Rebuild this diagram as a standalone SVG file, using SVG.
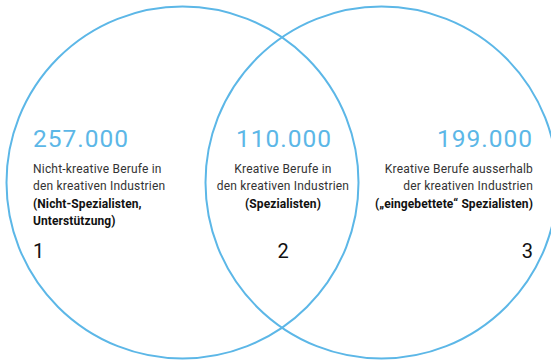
<svg xmlns="http://www.w3.org/2000/svg" width="551" height="361" viewBox="0 0 551 361">
<style>
.c{fill:none;stroke:#5cb7e7;stroke-width:2}
.n{font-family:Roboto,"Liberation Sans",sans-serif;font-size:24.5px;letter-spacing:1px;fill:#5cb7e7}
.t{font-family:Roboto,"Liberation Sans",sans-serif;font-size:12px;letter-spacing:0.2px;fill:#333}
.b{font-family:Roboto,"Liberation Sans",sans-serif;font-size:12px;font-weight:bold;letter-spacing:0.1px;fill:#111}
.k{font-family:Roboto,"Liberation Sans",sans-serif;font-size:20px;fill:#111}
</style>
<rect width="551" height="361" fill="#fff"/>
<g id="circle-left"><circle class="c" cx="182.5" cy="182.5" r="176"/></g>
<g id="circle-right"><circle class="c" cx="381.5" cy="182.5" r="176"/></g>
<g id="region1">
<text class="n" x="33" y="147">257.000</text>
<text class="t" x="33" y="173">Nicht-kreative Berufe in</text>
<text class="t" x="33" y="190">den kreativen Industrien</text>
<text class="b" x="33" y="208">(Nicht-Spezialisten,</text>
<text class="b" x="33" y="225">Unterstützung)</text>
<text class="k" x="33" y="258">1</text>
</g>
<g id="region2" text-anchor="middle">
<text class="n" x="284" y="147">110.000</text>
<text class="t" x="283" y="173">Kreative Berufe in</text>
<text class="t" x="283" y="190">den kreativen Industrien</text>
<text class="b" x="283" y="208">(Spezialisten)</text>
<text class="k" x="283" y="258">2</text>
</g>
<g id="region3" text-anchor="end">
<text class="n" x="533" y="147">199.000</text>
<text class="t" x="533" y="173">Kreative Berufe ausserhalb</text>
<text class="t" x="533" y="190">der kreativen Industrien</text>
<text class="b" x="533" y="208">(„eingebettete“ Spezialisten)</text>
<text class="k" x="533" y="258">3</text>
</g>
</svg>
